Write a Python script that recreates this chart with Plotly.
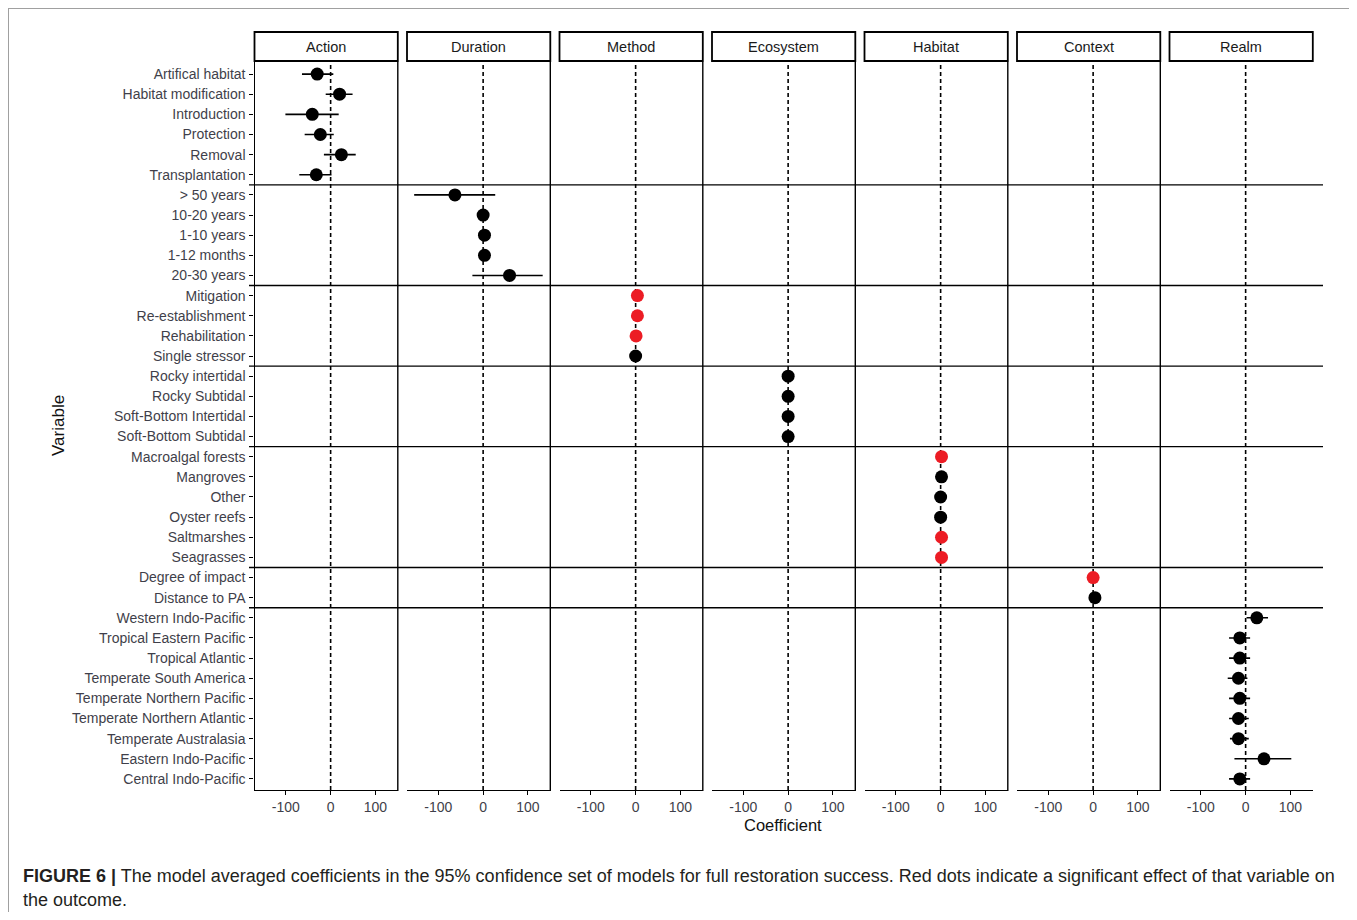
import plotly.graph_objects as go

W, H = 1357, 920
OFF = 8                      # page body margin
FW, FH = 1346, H - 2 * OFF

# ---------------- data ----------------
panels = ["Action", "Duration", "Method", "Ecosystem", "Habitat", "Context", "Realm"]

action_vars = ["Artifical habitat", "Habitat modification", "Introduction", "Protection", "Removal", "Transplantation"]
action_est = [-30, 20, -41, -23, 24, -32]
action_lo = [-64, -11, -101, -58, -15, -70]
action_hi = [6, 49, 18, 7, 56, 2]
action_sig = [0, 0, 0, 0, 0, 0]

duration_vars = ["> 50 years", "10-20 years", "1-10 years", "1-12 months", "20-30 years"]
duration_est = [-63, 0, 3, 3, 59]
duration_lo = [-154, -3, 0, 0, -24]
duration_hi = [27, 3, 6, 6, 133]
duration_sig = [0, 0, 0, 0, 0]

method_vars = ["Mitigation", "Re-establishment", "Rehabilitation", "Single stressor"]
method_est = [4, 4, 1, 0]
method_lo = [1, 1, -2, -3]
method_hi = [7, 7, 4, 3]
method_sig = [1, 1, 1, 0]

ecosystem_vars = ["Rocky intertidal", "Rocky Subtidal", "Soft-Bottom Intertidal", "Soft-Bottom Subtidal"]
ecosystem_est = [0, 0, 0, 0]
ecosystem_lo = [-3, -3, -3, -3]
ecosystem_hi = [3, 3, 3, 3]
ecosystem_sig = [0, 0, 0, 0]

habitat_vars = ["Macroalgal forests", "Mangroves", "Other", "Oyster reefs", "Saltmarshes", "Seagrasses"]
habitat_est = [2, 2, 0, 0, 2, 2]
habitat_lo = [-1, -1, -3, -3, -1, -1]
habitat_hi = [5, 5, 3, 3, 5, 5]
habitat_sig = [1, 0, 0, 0, 1, 1]

context_vars = ["Degree of impact", "Distance to PA"]
context_est = [0, 4]
context_lo = [-2, 1]
context_hi = [2, 7]
context_sig = [1, 0]

realm_vars = ["Western Indo-Pacific", "Tropical Eastern Pacific", "Tropical Atlantic", "Temperate South America",
              "Temperate Northern Pacific", "Temperate Northern Atlantic", "Temperate Australasia",
              "Eastern Indo-Pacific", "Central Indo-Pacific"]
realm_est = [25, -13, -13, -16, -13, -16, -16, 41, -13]
realm_lo = [2, -37, -37, -40, -37, -37, -35, -25, -37]
realm_hi = [50, 10, 10, 4, 10, 7, 7, 102, 10]
realm_sig = [0, 0, 0, 0, 0, 0, 0, 0, 0]

x_ticks = [-100, 0, 100]
x_range = [-170, 150]

groups = [
    (action_vars, action_est, action_lo, action_hi, action_sig),
    (duration_vars, duration_est, duration_lo, duration_hi, duration_sig),
    (method_vars, method_est, method_lo, method_hi, method_sig),
    (ecosystem_vars, ecosystem_est, ecosystem_lo, ecosystem_hi, ecosystem_sig),
    (habitat_vars, habitat_est, habitat_lo, habitat_hi, habitat_sig),
    (context_vars, context_est, context_lo, context_hi, context_sig),
    (realm_vars, realm_est, realm_lo, realm_hi, realm_sig),
]
all_vars = [v for g in groups for v in g[0]]

# ---------------- layout geometry (window pixels) ----------------
def px(x):
    return (x - OFF) / FW

def py(y):
    return 1 - (y - OFF) / FH

panel_left0 = 254.5
panel_w = 143.3
panel_step = 152.5
plot_top, plot_bot = 62, 790
strip_top, strip_bot = 32, 61

RED = "#ec1c24"
TICKC = "#3f3f4a"
FONT = "Liberation Sans, Arial, sans-serif"

fig = go.Figure()
shapes = []
annotations = []

for i, (name, g) in enumerate(zip(panels, groups)):
    vars_, est, lo, hi, sig = g
    xa = "x" if i == 0 else f"x{i+1}"
    left = panel_left0 + i * panel_step
    right = left + panel_w
    colors = [RED if s else "black" for s in sig]
    fig.add_trace(go.Scatter(
        x=est, y=vars_, mode="markers", xaxis=xa, yaxis="y",
        marker=dict(color=colors, size=13, line=dict(width=0)),
        error_x=dict(type="data", symmetric=False,
                     array=[h - e for h, e in zip(hi, est)],
                     arrayminus=[e - l for e, l in zip(est, lo)],
                     width=0, thickness=1.6, color="black"),
        showlegend=False, hoverinfo="x+y",
    ))
    axkey = "xaxis" if i == 0 else f"xaxis{i+1}"
    fig.layout[axkey] = dict(
        domain=[px(left), px(right)], range=x_range, anchor="y",
        tickvals=x_ticks, ticktext=[str(t) for t in x_ticks],
        ticks="outside", ticklen=4, tickwidth=1, tickcolor="black",
        showline=True, linecolor="black", linewidth=1.4,
        showgrid=False, zeroline=False,
        tickfont=dict(family=FONT, size=14, color=TICKC),
    )
    # dashed zero line
    shapes.append(dict(type="line", xref=xa, yref="paper", x0=0, x1=0,
                       y0=py(plot_bot), y1=py(plot_top),
                       line=dict(color="black", width=1.6, dash="4px,3px"), layer="below"))
    # right border
    if i < len(panels) - 1:
        shapes.append(dict(type="line", xref="paper", yref="paper", x0=px(right), x1=px(right),
                           y0=py(plot_bot + 1), y1=py(plot_top), line=dict(color="black", width=1.4)))
    # strip
    shapes.append(dict(type="rect", xref="paper", yref="paper", x0=px(left), x1=px(right),
                       y0=py(strip_bot), y1=py(strip_top), line=dict(color="black", width=1.8),
                       fillcolor="white"))
    annotations.append(dict(text=name, xref="paper", yref="paper", x=px((left + right) / 2),
                            y=py((strip_top + strip_bot) / 2), showarrow=False,
                            font=dict(family=FONT, size=14.5, color="#1a1a1a"),
                            xanchor="center", yanchor="middle"))

# horizontal separators between groups
cum = 0
for g in groups[:-1]:
    cum += len(g[0])
    shapes.append(dict(type="line", xref="paper", yref="y", x0=px(249), x1=px(1323),
                       y0=cum - 0.5, y1=cum - 0.5, line=dict(color="black", width=1.4)))

# outer frame
shapes.append(dict(type="rect", xref="paper", yref="paper", x0=0, x1=1,
                   y0=py(935), y1=1, line=dict(color="#a0a0a0", width=2), layer="below"))

fig.layout.yaxis = dict(
    domain=[py(plot_bot), py(plot_top)], type="category", categoryarray=all_vars,
    range=[len(all_vars) - 0.45, -0.6], anchor="x",
    ticks="outside", ticklen=4, tickwidth=1, tickcolor="black",
    showline=True, linecolor="black", linewidth=1.4, showgrid=False, zeroline=False,
    tickfont=dict(family=FONT, size=14, color=TICKC), ticklabelstandoff=1,
)

annotations.append(dict(text="Variable", xref="paper", yref="paper", x=px(58), y=py(426),
                        textangle=-90, showarrow=False, font=dict(family=FONT, size=17, color="#111"),
                        xanchor="center", yanchor="middle"))
annotations.append(dict(text="Coefficient", xref="paper", yref="paper", x=px(783), y=py(825),
                        showarrow=False, font=dict(family=FONT, size=16.5, color="#111"),
                        xanchor="center", yanchor="middle"))
annotations.append(dict(text="<b>FIGURE 6 |</b> The model averaged coefficients in the 95% confidence set of models for full restoration success. Red dots indicate a significant effect of that variable on",
                        xref="paper", yref="paper", x=px(21), y=py(876), showarrow=False,
                        font=dict(family=FONT, size=18, color="#231f20"), xanchor="left", yanchor="middle"))
annotations.append(dict(text="the outcome.",
                        xref="paper", yref="paper", x=px(21), y=py(900), showarrow=False,
                        font=dict(family=FONT, size=18, color="#231f20"), xanchor="left", yanchor="middle"))

fig.update_layout(
    width=FW, height=FH, margin=dict(l=0, r=0, t=0, b=0),
    paper_bgcolor="white", plot_bgcolor="white",
    shapes=shapes, annotations=annotations, showlegend=False,
    font=dict(family=FONT),
)

fig.write_html("out.html")
